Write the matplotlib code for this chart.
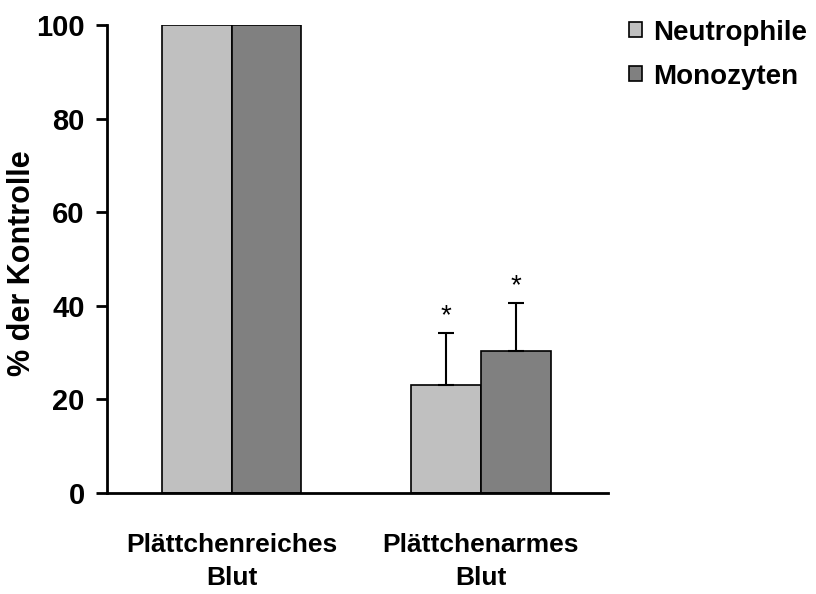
import numpy as np
import matplotlib
matplotlib.use('Agg')
import matplotlib.pyplot as plt

# data
categories = ['Plättchenreiches\nBlut', 'Plättchenarmes\nBlut']
series = ['Neutrophile', 'Monozyten']
neutrophile = [100, 23.1]
monozyten = [100, 30.4]
neutrophile_err = [0, 11.1]
monozyten_err = [0, 10.2]
significant_neu = [False, True]
significant_mono = [False, True]

plt.rcParams['font.family'] = ['Liberation Sans', 'DejaVu Sans']
plt.rcParams['font.weight'] = 'bold'

fig = plt.figure(figsize=(8.16, 5.94), dpi=100)
ax = fig.add_axes([0.131, 0.170, 0.614, 0.788])

x = np.arange(len(categories))
w = 0.28
colors = ['#c0c0c0', '#808080']

for vals, errs, sig, offset, col, name in [
    (neutrophile, neutrophile_err, significant_neu, -w / 2, colors[0], series[0]),
    (monozyten, monozyten_err, significant_mono, w / 2, colors[1], series[1]),
]:
    ax.bar(x + offset, vals, w, color=col, edgecolor='black', linewidth=1.2, label=name, zorder=2)
    errs_arr = np.array(errs)
    has_err = errs_arr > 0
    ax.errorbar((x + offset)[has_err], np.array(vals)[has_err],
                yerr=[np.zeros(has_err.sum()), errs_arr[has_err]],
                fmt='none', ecolor='black', elinewidth=1.5, capsize=6, capthick=1.5, zorder=3)
    for xi, v, e, s in zip(x + offset, vals, errs, sig):
        if s:
            ax.text(xi, v + e + 0.8, '*', ha='center', va='bottom', fontsize=20, fontweight='normal')

ax.set_xlim(-0.5, 1.51)
ax.set_ylim(0, 100)
ax.set_yticks([0, 20, 40, 60, 80, 100])
ax.set_xticks(x)
ax.set_xticklabels(categories, fontsize=19, linespacing=1.45)
ax.tick_params(axis='x', length=0, pad=29)
ax.tick_params(axis='y', length=8, width=2, labelsize=21, pad=8)
ax.set_ylabel('% der Kontrolle', fontsize=22, fontweight='bold')
ax.yaxis.set_label_coords(-0.14, 0.49)

for side in ['top', 'right']:
    ax.spines[side].set_visible(False)
for side in ['left', 'bottom']:
    ax.spines[side].set_linewidth(2)
ax.spines['left'].set_zorder(4)
ax.spines['bottom'].set_zorder(4)

leg = ax.legend(loc='upper left', bbox_to_anchor=(1.02, 1.035), frameon=False,
                fontsize=20, handlelength=0.45, handleheight=0.45, handletextpad=0.4,
                labelspacing=0.65, borderaxespad=0)

fig.savefig('out.png', dpi=100)
